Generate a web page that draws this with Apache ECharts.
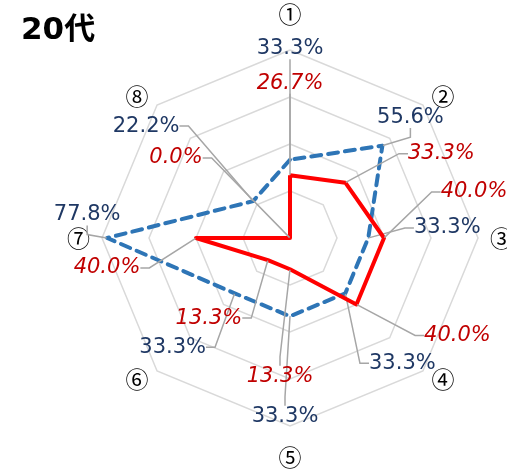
<!DOCTYPE html>
<html style="height: 100%" lang="ja">
<head>
  <meta charset="utf-8">
  <script type="text/javascript" src="https://cdn.jsdelivr.net/npm/echarts@6/dist/echarts.min.js"></script>
</head>
<body style="height: 100%; margin: 0">
  <div id="container" style="width: 507px; height: 469px"></div>
  <script type="text/javascript">
    // clockwise from the top
    var names = ['①', '②', '③', '④', '⑤', '⑥', '⑦', '⑧'];
    var blueValues = [33.3, 55.6, 33.3, 33.3, 33.3, 33.3, 77.8, 22.2];
    var redValues = [26.7, 33.3, 40.0, 40.0, 13.3, 13.3, 40.0, 0.0];

    // label offset from its point, px
    var blueOffsets = [[0, -111], [28, -28], [79, -10], [57, 70], [-5, 100], [-62, 54], [-20, -23], [-107, -75]];
    var redOffsets = [[0, -92], [96, -29], [90, -46], [101, 31], [-10, 107], [-59, 58], [-89, 30], [-114, -80]];

    var cx = 290, cy = 238;

    // echarts radar runs counter-clockwise
    var order = [0, 7, 6, 5, 4, 3, 2, 1];
    function reorder(a) {
      return order.map(function(i) { return a[i]; });
    }

    function dimOf(p, values) {
      var r = p.labelRect;
      var x = r.x + r.width / 2 - cx;
      var y = r.y + r.height / 2 - cy;
      if (Math.abs(x) < 2 && Math.abs(y) < 2) return values.indexOf(0);
      var a = Math.atan2(x, -y);
      return ((Math.round(a / (Math.PI / 4)) % 8) + 8) % 8;
    }

    function pct(p) {
      return p.value.toFixed(1) + '%';
    }

    var dom = document.getElementById("container");
    var myChart = echarts.init(dom);

    var option = {
      animation: false,
      title: {
        text: '20代',
        left: 16,
        top: 10,
        textStyle: {
          fontFamily: 'DejaVu Sans, Noto Sans CJK JP',
          fontWeight: 'bold',
          fontSize: 31,
          color: '#000'
        }
      },
      radar: {
        center: [cx, cy],
        radius: 188,
        shape: 'polygon',
        splitNumber: 4,
        indicator: reorder(names).map(function(n) {
          return { name: n, min: 0, max: 80 };
        }),
        axisName: {
          color: '#000',
          fontFamily: 'Noto Sans CJK JP',
          fontSize: 23,
          formatter: function(v) {
            if (v === '①') return '{t|' + v + '}';
            if (v === '⑤') return '{b|' + v + '}';
            return v;
          },
          rich: {
            t: { fontSize: 23, fontFamily: 'Noto Sans CJK JP', color: '#000', padding: [0, 0, 12, 0] },
            b: { fontSize: 23, fontFamily: 'Noto Sans CJK JP', color: '#000', padding: [8, 0, 0, 0] }
          }
        },
        nameGap: 12,
        axisLine: { show: false },
        axisTick: { show: false },
        splitArea: { show: false },
        splitLine: {
          lineStyle: { color: '#d9d9d9', width: 1.5 }
        }
      },
      series: [{
        name: 'blue',
        type: 'radar',
        symbol: 'circle',
        symbolSize: 1,
        data: [{ value: reorder(blueValues) }],
        lineStyle: { color: '#2e75b6', width: 4, type: [10, 7], cap: 'round' },
        itemStyle: { color: '#2e75b6' },
        label: {
          show: true,
          position: 'inside',
          formatter: pct,
          color: '#1f3864',
          fontFamily: 'DejaVu Sans',
          fontSize: 21
        },
        labelLine: {
          show: true,
          length2: 9,
          lineStyle: { color: '#a6a6a6', width: 1.5 }
        },
        labelLayout: function(p) {
          var d = blueOffsets[dimOf(p, blueValues)];
          return { dx: d[0], dy: d[1] };
        },
        z: 3
      }, {
        name: 'red',
        type: 'radar',
        symbol: 'circle',
        symbolSize: 1,
        data: [{ value: reorder(redValues) }],
        lineStyle: { color: '#ff0000', width: 4 },
        itemStyle: { color: '#ff0000' },
        label: {
          show: true,
          position: 'inside',
          formatter: pct,
          color: '#c00000',
          fontFamily: 'DejaVu Sans',
          fontStyle: 'italic',
          fontSize: 21
        },
        labelLine: {
          show: true,
          length2: 9,
          lineStyle: { color: '#a6a6a6', width: 1.5 }
        },
        labelLayout: function(p) {
          var d = redOffsets[dimOf(p, redValues)];
          return { dx: d[0], dy: d[1] };
        },
        z: 4
      }]
    };
    myChart.setOption(option);
  </script>
</body>
</html>
